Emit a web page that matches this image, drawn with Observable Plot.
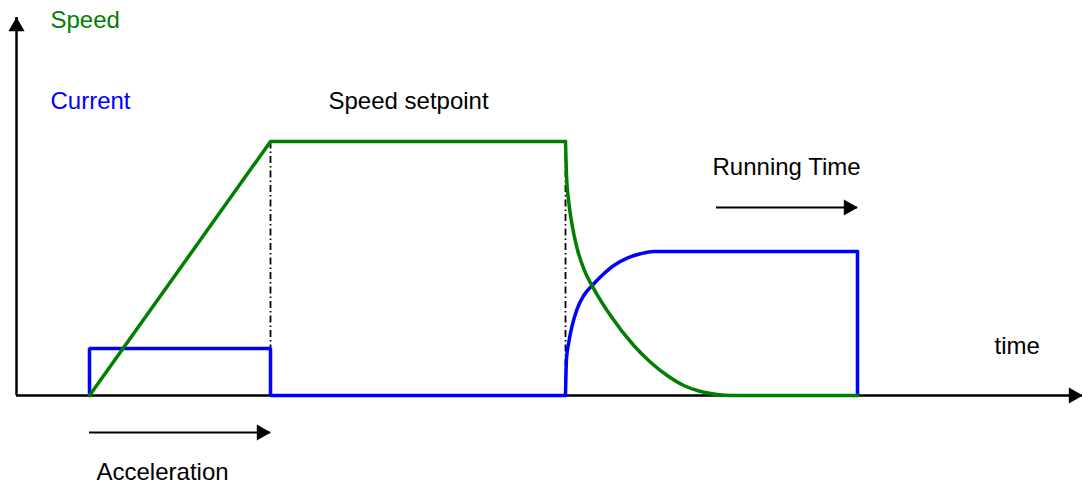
<!DOCTYPE html>
<html>
<head>
<meta charset="utf-8">
<script src="https://cdn.jsdelivr.net/npm/d3@7"></script>
<script src="https://cdn.jsdelivr.net/npm/@observablehq/plot@0.6"></script>
<style>
  html, body { margin: 0; padding: 0; background: #fff; overflow: hidden; }
  #chart svg { display: block; }
</style>
</head>
<body>
<div id="chart"></div>
<script>
// --- data (time units, value units) ---
// Speed: ramp, setpoint, decay
const speedTime  = [73, 254, 549, 550, 552.3, 555.7, 560.7, 567.3, 577.3, 594, 617.3, 634, 650.7, 667.3, 684, 700.7, 714, 841];
const speedValue = [0, 254, 254, 220, 193.3, 170, 146.7, 126.7, 106.7, 80, 50, 33.3, 20, 10, 4, 1, 0, 0];
const speedBreak = 2; // index where the curved decay starts

// Current: step during acceleration, rise after braking, running level
const currentTime  = [73, 73, 254, 254, 549, 550, 552.3, 555.7, 560.7, 567.3, 577.3, 587.3, 597.3, 610.7, 624, 637.3, 841, 841];
const currentValue = [0, 47, 47, 0, 0, 36.7, 53.3, 70, 86.7, 100, 111.7, 121.7, 130, 137.3, 141.7, 144, 144, 0];
const currentCurveStart = 4;
const currentCurveEnd = 16;

// Phase boundaries (dash-dot guides)
const phaseTimes = [254, 549];
const setpointValue = 254;

// Axis extents
const axisTimeEnd = 1066;
const axisValueEnd = 378;

// Annotation arrows
const accelArrow = {t1: 73, t2: 254, v: -37};
const runArrow = {t1: 700, t2: 841, v: 188};

// Labels
const labelText  = ["Speed", "Current", "Speed setpoint", "Running Time", "time", "Acceleration"];
const labelTime  = [34, 34, 312, 696, 978, 80];
const labelValue = [375, 294, 294, 228, 49, -77];
const labelKind  = ["speed", "current", "plain", "plain", "plain", "plain"];

// --- build tables ---
const speed = speedTime.map((t, i) => ({t, v: speedValue[i]}));
const current = currentTime.map((t, i) => ({t, v: currentValue[i]}));
const labels = labelText.map((text, i) => ({text, t: labelTime[i], v: labelValue[i], kind: labelKind[i]}));
const GREEN = "#008000", BLUE = "#0000ff";
const colorOf = {speed: GREEN, current: BLUE, plain: "#000"};

const chart = Plot.plot({
  width: 1082,
  height: 485,
  margin: 0,
  x: {domain: [-16, 1066], range: [0, 1082], axis: null},
  y: {domain: [-90, 395], range: [485, 0], axis: null},
  style: {fontFamily: "'Liberation Sans', Arial, sans-serif", background: "#fff"},
  marks: [
    // axes
    Plot.ruleY([0], {x1: 0, x2: axisTimeEnd, stroke: "#000", strokeWidth: 2.5}),
    Plot.ruleX([0], {y1: 0, y2: axisValueEnd, stroke: "#000", strokeWidth: 2.5}),
    Plot.dot([{t: 0, v: axisValueEnd}], {x: "t", y: "v", symbol: "triangle", r: 6, fill: "#000", stroke: null, dy: 9}),
    Plot.dot([{t: axisTimeEnd, v: 0}], {x: "t", y: "v", symbol: "triangle", r: 6, fill: "#000", stroke: null, rotate: 90, dx: -9}),
    // phase guides
    Plot.ruleX(phaseTimes, {y1: 0, y2: setpointValue, stroke: "#000", strokeWidth: 1.8, strokeDasharray: "7,3,1.5,3"}),
    // current
    Plot.line(current.slice(0, currentCurveStart + 1), {x: "t", y: "v", stroke: BLUE, strokeWidth: 3.5, strokeLinejoin: "miter"}),
    Plot.line(current.slice(currentCurveStart, currentCurveEnd + 1), {x: "t", y: "v", stroke: BLUE, strokeWidth: 3.5, curve: "monotone-x"}),
    Plot.line(current.slice(currentCurveEnd), {x: "t", y: "v", stroke: BLUE, strokeWidth: 3.5, strokeLinejoin: "miter"}),
    // speed
    Plot.line(speed.slice(0, speedBreak + 1), {x: "t", y: "v", stroke: GREEN, strokeWidth: 3.5}),
    Plot.line(speed.slice(speedBreak), {x: "t", y: "v", stroke: GREEN, strokeWidth: 3.5, curve: "monotone-x"}),
    // annotation arrows
    Plot.ruleY([accelArrow, runArrow], {y: "v", x1: "t1", x2: "t2", stroke: "#000", strokeWidth: 2}),
    Plot.dot([accelArrow, runArrow], {x: "t2", y: "v", symbol: "triangle", r: 6, fill: "#000", stroke: null, rotate: 90, dx: -9}),
    // labels
    Plot.text(labels, {x: "t", y: "v", text: "text", fill: d => colorOf[d.kind], textAnchor: "start", fontSize: 24})
  ]
});
document.getElementById("chart").appendChild(chart);
</script>
</body>
</html>
